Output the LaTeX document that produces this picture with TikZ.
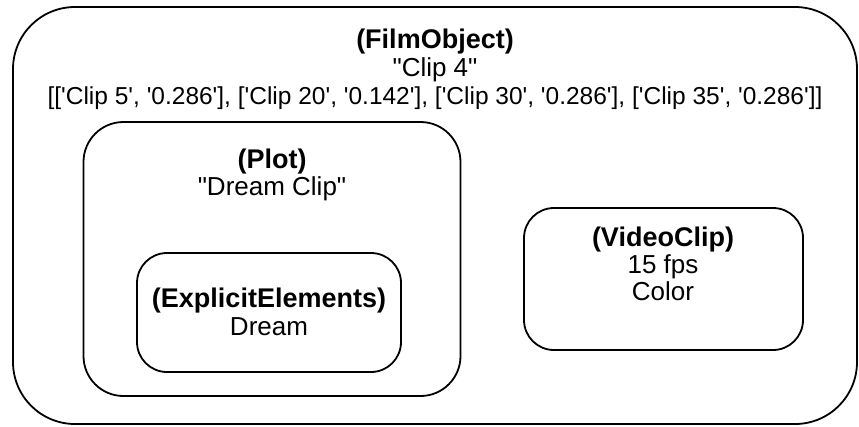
\documentclass[tikz,border=0pt]{standalone}
\usepackage{fontspec}
% plain family without TeX ligatures, so quotes stay straight
\newfontfamily\labelfont{Liberation Sans}
\begin{document}
\begin{tikzpicture}[x=1pt,y=-1pt,
  frame/.style={draw=black, line width=1.8pt, inner sep=0pt},
  head/.style={font=\labelfont\fontsize{27}{31}\selectfont\bfseries, inner sep=0pt, anchor=base},
  body/.style={font=\labelfont\fontsize{26}{30}\selectfont, inner sep=0pt, anchor=base},
  list/.style={font=\labelfont\fontsize{24.5}{28}\selectfont, inner sep=0pt, anchor=base}]
\useasboundingbox (0,0) rectangle (859,426);
% outer film object
\node[frame, rounded corners=62pt, minimum width=844pt, minimum height=417pt] (film) at (435,215.5) {};
\node[head] (filmhead) at (435,48) {(FilmObject)};
\node[body] (filmname) at (435,76) {"Clip 4"};
\node[list] (filmlist) at (435,104) {[['Clip 5', '0.286'], ['Clip 20', '0.142'], ['Clip 30', '0.286'], ['Clip 35', '0.286']]};
% plot
\node[frame, rounded corners=40pt, minimum width=377pt, minimum height=274pt] (plot) at (272,259) {};
\node[head] (plothead) at (272,168) {(Plot)};
\node[body] (plotname) at (272,195) {"Dream Clip"};
% explicit elements
\node[frame, rounded corners=30pt, minimum width=264pt, minimum height=119pt] (expl) at (269,312.5) {};
\node[head] (explhead) at (269,307) {(ExplicitElements)};
\node[body] (explname) at (269,335) {Dream};
% video clip
\node[frame, rounded corners=30pt, minimum width=279pt, minimum height=142pt] (video) at (663.5,279) {};
\node[head] (videohead) at (663,246) {(VideoClip)};
\node[body] (videofps) at (663,273) {15 fps};
\node[body] (videocolor) at (663,300) {Color};
\end{tikzpicture}
\end{document}
